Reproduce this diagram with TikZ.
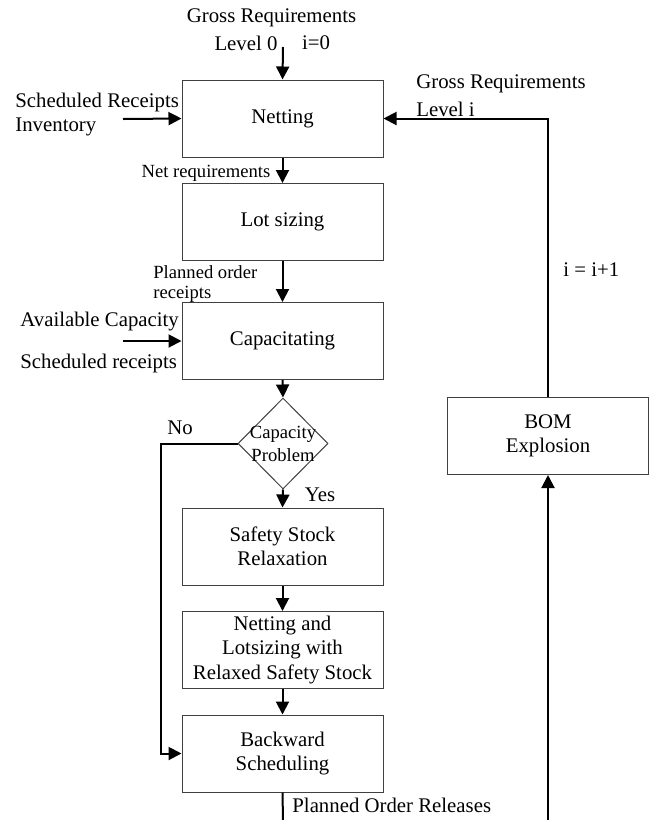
\documentclass[tikz,border=0pt]{standalone}
\usepackage{fontspec}
\setmainfont{Liberation Serif}
\usetikzlibrary{arrows.meta,shapes.geometric}

\tikzset{
  stepbox/.style={draw=black!75, line width=0.5pt, minimum width=100.5pt, minimum height=38.5pt, inner sep=1pt, align=center, font=\fontsize{10.4}{12.2}\selectfont},
  decision/.style={draw=black!75, line width=0.5pt, diamond, minimum width=45pt, minimum height=45.5pt, inner sep=0pt},
  flow/.style={line width=1pt, -{Triangle[length=6.5pt,width=6.5pt]}},
  flowline/.style={line width=1pt},
  lbl/.style={inner sep=0pt, font=\fontsize{10.4}{12.5}\selectfont},
  smalllbl/.style={inner sep=0pt, font=\fontsize{9.3}{11}\selectfont}
}

\begin{document}
\begin{tikzpicture}[x=0.5pt,y=0.5pt,yscale=-1,xscale=1]
\useasboundingbox (0,0) rectangle (652,820);

% process boxes
\node [stepbox] (net) at (282.5,118.5) {Netting};
\node [stepbox] (lot) at (282.5,222) {Lot sizing};
\node [stepbox] (cap) at (282.5,341) {Capacitating};
\node [decision] (dec) at (283,443.5) {};
\node [smalllbl, align=center, font=\fontsize{9.3}{11.5}\selectfont] (dectext) at (dec) {Capacity\\Problem};
\node [stepbox] (safe) at (282.5,546.5) {Safety Stock\\Relaxation};
\node [stepbox] (relax) at (282.5,650) {Netting and\\Lotsizing with\\Relaxed Safety Stock};
\node [stepbox] (back) at (282.5,753.5) {Backward\\Scheduling};
\node [stepbox] (bom) at (548,436) {BOM\\Explosion};

% free ends
\coordinate (topin) at (283,47);
\coordinate (netin) at (123,119);
\coordinate (capin) at (123,341);
\coordinate (noturn) at (161,443.5);
\coordinate (backout) at (283,820);
\coordinate (bomin) at (548,820);

% connectors
\draw [flow] (topin) -- (net.north);
\draw [flow] (netin) -- (net.west);
\draw [flow] (net.south) -- (lot.north);
\draw [flow] (lot.south) -- (cap.north);
\draw [flow] (capin) -- (cap.west);
\draw [flow] (cap.south) -- (dec.north);
\draw [flow] (dec.south) -- (safe.north);
\draw [flow] (safe.south) -- (relax.north);
\draw [flow] (relax.south) -- (back.north);
\draw [flow] (dec.west) -- (noturn) |- (back.west);
\draw [flowline] (back.south) -- (backout);
\draw [flow] (bomin) -- (bom.south);
\draw [flow] (bom.north) |- (net.east);

% labels
\node [lbl] (grosstop) at (271.5,18) {Gross Requirements};
\node [lbl] (level0) at (246,43) {Level 0};
\node [lbl] (izero) at (316,43) {i=0};
\node [lbl, anchor=west] (schedrec) at (15,102) {Scheduled Receipts};
\node [lbl, anchor=west] (inv) at (15,127) {Inventory};
\node [smalllbl] (netreq) at (206,173) {Net requirements};
\node [smalllbl, anchor=west] (plan1) at (153,272) {Planned order};
\node [smalllbl, anchor=west] (plan2) at (153,294) {receipts};
\node [lbl, anchor=west] (avail) at (20,322) {Available Capacity};
\node [lbl, anchor=west] (schedrec2) at (20,363) {Scheduled receipts};
\node [lbl] (no) at (180,428) {No};
\node [lbl] (yes) at (320,495) {Yes};
\node [lbl, anchor=west] (grossi) at (416,84) {Gross Requirements};
\node [lbl, anchor=west] (leveli) at (416,109) {Level i};
\node [lbl, anchor=west] (incr) at (563,270) {i = i+1};
\node [lbl, anchor=west] (release) at (292,805) {Planned Order Releases};

\end{tikzpicture}
\end{document}
